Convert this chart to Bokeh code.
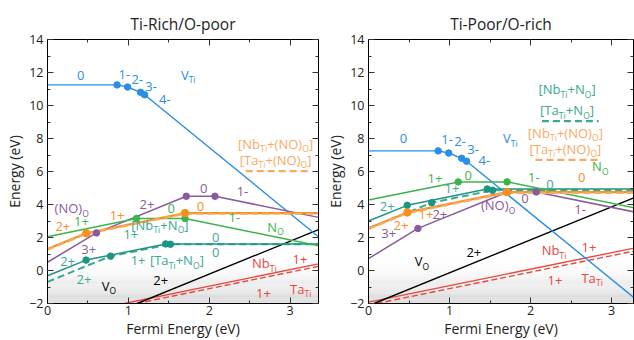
import re
import numpy as np
from bokeh.plotting import figure
from bokeh.layouts import row
from bokeh.models import LinearAxis, SingleIntervalTicker, Range1d, CustomJSTickFormatter
from bokeh.core.properties import value
from bokeh.embed import file_html
from bokeh.resources import INLINE

FONT = "Open Sans"

# ---------------- data: Ti-rich / O-poor (left) ----------------
L_vti_x = [0, 0.86, 0.99, 1.15, 1.20, 3.35]
L_vti_y = [11.25, 11.25, 11.12, 10.80, 10.65, 2.05]
L_vti_dots = [0.86, 0.99, 1.15, 1.20]

L_no_x = [0, 0.605, 1.716, 2.07, 3.35]          # (NO)_O
L_no_y = [0.50, 2.28, 4.50, 4.50, 3.22]
L_no_dots = [0.605, 1.716, 2.07]

L_nbno_x = [0, 0.48, 1.70, 3.35]                # [Nb_Ti+(NO)_O]
L_nbno_y = [1.30, 2.26, 3.48, 3.48]
L_nbno_dots = [0.48, 1.70]
L_tano_x = [0, 0.48, 1.70, 3.35]                # [Ta_Ti+(NO)_O]
L_tano_y = [1.26, 2.22, 3.44, 3.44]

L_n_x = [0, 1.10, 1.70, 3.35]                   # N_O
L_n_y = [2.05, 3.15, 3.15, 1.50]
L_n_dots = [1.10, 1.70]

L_nbn_x = [0, 0.477, 1.46, 3.35]                # [Nb_Ti+N_O]
L_nbn_y = [-0.32, 0.63, 1.61, 1.61]
L_nbn_dots = [0.477, 1.46]
L_tan_x = [0, 0.78, 1.52, 3.35]                 # [Ta_Ti+N_O]
L_tan_y = [-0.69, 0.87, 1.59, 1.59]
L_tan_dots = [0.78, 1.52]

L_vo_x = [1.11, 3.35]
L_vo_y = [-2.0, 2.48]
L_nb_x = [0.95, 3.35]
L_nb_y = [-2.0, 0.40]
L_ta_x = [1.10, 3.35]
L_ta_y = [-2.0, 0.25]

# ---------------- data: Ti-poor / O-rich (right) ----------------
R_vti_x = [0, 0.86, 0.99, 1.15, 1.21, 3.28]
R_vti_y = [7.25, 7.25, 7.12, 6.80, 6.62, -1.66]
R_vti_dots = [0.86, 0.99, 1.15, 1.21]

R_no_x = [0, 0.61, 1.716, 2.07, 3.28]
R_no_y = [0.72, 2.55, 4.76, 4.76, 3.55]
R_no_dots = [0.61, 1.716, 2.07]

R_nbno_x = [0, 0.48, 1.71, 3.28]
R_nbno_y = [2.56, 3.52, 4.75, 4.75]
R_nbno_dots = [0.48, 1.71]
R_tano_x = [0, 0.48, 1.71, 3.28]
R_tano_y = [2.52, 3.48, 4.71, 4.71]

R_n_x = [0, 1.107, 1.71, 3.28]
R_n_y = [4.27, 5.37, 5.37, 3.80]
R_n_dots = [1.107, 1.71]

R_nbn_x = [0, 0.478, 1.465, 3.28]
R_nbn_y = [3.00, 3.95, 4.94, 4.94]
R_nbn_dots = [0.478, 1.465]
R_tan_x = [0, 0.78, 1.53, 3.28]
R_tan_y = [2.55, 4.11, 4.86, 4.86]
R_tan_dots = [0.78, 1.53]

R_vo_x = [0.07, 3.28]
R_vo_y = [-2.0, 4.42]
R_nb_x = [0, 3.28]
R_nb_y = [-1.92, 1.36]
R_ta_x = [0.10, 3.28]
R_ta_y = [-2.0, 1.18]

# ---------------- colours ----------------
BLUE = "#2a8de6"
PURPLE = "#8a5a9c"
ORANGE = "#f7901e"
ORANGE_L = "#f9aa62"
GREEN = "#3bb44a"
TEAL = "#1b9683"
TEAL_L = "#3aa893"
RED = "#e8473e"
BLACK = "#000000"

# ---------------- labels ----------------
L_labels = [
    ("0", 0.41, 11.82, BLUE), ("1-", 0.95, 11.86, BLUE), ("2-", 1.11, 11.57, BLUE),
    ("3-", 1.28, 11.16, BLUE), ("4-", 1.45, 10.39, BLUE), ("V_{Ti}", 1.74, 11.86, BLUE),
    ("[Nb_{Ti}+(NO)_{O}]", 2.82, 7.69, ORANGE_L), ("[Ta_{Ti}+(NO)_{O}]", 2.82, 6.71, ORANGE_L),
    ("0", 1.93, 4.94, PURPLE), ("1-", 2.41, 4.78, PURPLE), ("2+", 1.23, 4.03, PURPLE),
    ("(NO)_{O}", 0.30, 3.76, PURPLE), ("3+", 0.51, 1.28, PURPLE),
    ("1+", 0.86, 3.35, ORANGE), ("2+", 0.19, 2.66, ORANGE), ("0", 1.89, 3.90, ORANGE),
    ("0", 1.53, 3.74, GREEN), ("1+", 0.42, 2.95, GREEN), ("1-", 2.31, 3.20, GREEN),
    ("N_{O}", 2.82, 2.64, GREEN),
    ("[Nb_{Ti}+N_{O}]", 1.39, 2.77, TEAL_L), ("1+", 1.03, 2.18, TEAL_L), ("0", 2.08, 2.03, TEAL_L),
    ("0", 2.08, 1.08, TEAL_L), ("1+", 1.12, 0.59, TEAL_L), ("[Ta_{Ti}+N_{O}]", 1.60, 0.61, TEAL_L),
    ("2+", 0.25, 0.55, TEAL_L), ("2+", 0.45, -0.53, TEAL_L),
    ("V_{O}", 0.76, -0.93, BLACK), ("2+", 1.40, -0.59, BLACK),
    ("Nb_{Ti}", 2.68, 0.45, RED), ("1+", 3.12, 0.65, RED), ("1+", 2.67, -1.38, RED),
    ("Ta_{Ti}", 3.13, -1.12, RED),
]
L_keys = [(2.45, 3.23, 6.02, ORANGE_L)]

R_labels = [
    ("[Nb_{Ti}+N_{O}]", 2.45, 10.98, TEAL_L), ("[Ta_{Ti}+N_{O}]", 2.45, 9.70, TEAL_L),
    ("[Nb_{Ti}+(NO)_{O}]", 2.43, 8.36, ORANGE_L), ("[Ta_{Ti}+(NO)_{O}]", 2.43, 7.38, ORANGE_L),
    ("N_{O}", 2.86, 6.33, GREEN),
    ("0", 0.43, 7.99, BLUE), ("1-", 0.97, 7.93, BLUE), ("2-", 1.13, 7.83, BLUE),
    ("3-", 1.29, 7.34, BLUE), ("4-", 1.43, 6.65, BLUE), ("V_{Ti}", 1.75, 8.03, BLUE),
    ("1+", 0.82, 5.57, GREEN), ("0", 1.23, 5.77, GREEN), ("1-", 2.04, 5.63, GREEN),
    ("0", 2.24, 5.24, TEAL_L), ("1+", 1.03, 5.00, TEAL_L), ("2+", 0.23, 3.90, TEAL_L),
    ("0", 2.63, 5.61, ORANGE), ("1+", 0.71, 3.40, ORANGE), ("2+", 0.40, 2.72, ORANGE),
    ("2+", 0.88, 3.40, PURPLE), ("(NO)_{O}", 1.60, 3.95, PURPLE), ("0", 1.93, 4.39, PURPLE),
    ("1-", 2.61, 3.70, PURPLE), ("3+", 0.25, 2.22, PURPLE),
    ("V_{O}", 0.66, 0.55, BLACK), ("2+", 1.30, 1.10, BLACK),
    ("Nb_{Ti}", 2.29, 1.24, RED), ("1+", 2.72, 1.38, RED), ("1+", 2.30, -0.63, RED),
    ("Ta_{Ti}", 2.76, -0.43, RED),
]
R_keys = [(2.14, 2.84, 9.05, TEAL_L), (2.06, 2.84, 6.71, ORANGE_L)]

# ---------------- helpers ----------------
CW = {"+": 0.572, "-": 0.322, "(": 0.296, ")": 0.296, "[": 0.329, "]": 0.329,
      "N": 0.762, "O": 0.779, "T": 0.556, "V": 0.592, "b": 0.613, "a": 0.562,
      "i": 0.258, "o": 0.602}
SIZE = 13
SUB = 8.5


def tw(s, size):
    return sum(CW.get(c, 0.572) for c in s) * size


def rich(p, x, y, label, color):
    bits = re.split(r"_\{([^}]*)\}", label)
    parts = [(b, i % 2 == 1) for i, b in enumerate(bits) if b]
    widths = [tw(t, SUB if s else SIZE) for t, s in parts]
    acc = -sum(widths) / 2
    for (t, s), w in zip(parts, widths):
        p.text(x=[x], y=[y], text=[t], x_offset=acc, y_offset=5 if s else 0,
               text_align="left", text_baseline="middle", text_font=value(FONT),
               text_font_size=f"{SUB if s else SIZE}px", text_color=color)
        acc += w


def style_axis(ax, interval, show):
    ax.ticker = SingleIntervalTicker(interval=interval, num_minor_ticks=2)
    ax.major_tick_in = 6
    ax.major_tick_out = 0
    ax.minor_tick_in = 3
    ax.minor_tick_out = 0
    ax.axis_line_color = "black"
    ax.major_tick_line_color = "#333333"
    ax.minor_tick_line_color = "#333333"
    if show:
        ax.major_label_text_font = FONT
        ax.major_label_text_font_size = "12.5px"
        ax.major_label_text_color = "#222222"
        ax.axis_label_text_font = FONT
        ax.axis_label_text_font_size = "14px"
        ax.axis_label_text_font_style = "normal"
        ax.axis_label_text_color = "#222222"
    else:
        ax.formatter = CustomJSTickFormatter(code="return '';")
        ax.major_label_standoff = 0


def make_fig(title, xmax, width, bl, br):
    p = figure(width=width, height=340, x_range=Range1d(0, xmax), y_range=Range1d(-2, 14),
               output_backend="svg", toolbar_location=None,
               min_border_left=bl, min_border_right=br, min_border_top=39, min_border_bottom=31)
    p.title.text = title
    p.title.align = "center"
    p.title.text_font = FONT
    p.title.text_font_size = "15.5px"
    p.title.text_font_style = "normal"
    p.title.text_color = "#222222"
    p.grid.visible = False
    p.outline_line_color = "black"
    p.background_fill_color = "white"
    p.border_fill_color = "white"
    style_axis(p.xaxis[0], 1, True)
    style_axis(p.yaxis[0], 2, True)
    p.xaxis[0].axis_label = "Fermi Energy (eV)"
    p.xaxis[0].major_label_standoff = 2
    p.xaxis[0].axis_label_standoff = 1
    p.yaxis[0].axis_label = "Energy (eV)"
    p.yaxis[0].major_label_standoff = 4
    p.yaxis[0].axis_label_standoff = 2
    top = LinearAxis()
    style_axis(top, 1, False)
    p.add_layout(top, "above")
    right = LinearAxis()
    style_axis(right, 2, False)
    p.add_layout(right, "right")
    # valence-band shading
    edges = np.linspace(-2, 0.6, 41)
    mids = (edges[:-1] + edges[1:]) / 2
    cols = []
    for m in mids:
        t = (0.6 - m) / 2.6
        g = int(round(255 - 40 * t ** 1.3))
        cols.append("#%02x%02x%02x" % (g, g, g))
    p.quad(left=0, right=xmax, bottom=edges[:-1], top=edges[1:], fill_color=cols, line_color=None)
    return p


def line(p, xs, ys, color, w=1.5, dash="solid", alpha=1.0):
    p.line(xs, ys, line_color=color, line_width=w, line_dash=dash, line_alpha=alpha)


def dots(p, dx, xs, ys, color, size=6.5):
    p.scatter(dx, np.interp(dx, xs, ys), size=size, fill_color=color, line_color=color)


def panel(p, d, labels, keys):
    line(p, d["nb"][0], d["nb"][1], RED, 1.4)
    line(p, d["ta"][0], d["ta"][1], RED, 1.4, "6 3")
    line(p, d["vo"][0], d["vo"][1], BLACK, 1.4)
    line(p, d["vti"][0], d["vti"][1], BLUE, 1.4)
    line(p, d["no"][0], d["no"][1], PURPLE, 1.5)
    line(p, d["tan"][0], d["tan"][1], TEAL_L, 2.0, "7 4")
    line(p, d["nbn"][0], d["nbn"][1], TEAL, 1.5)
    line(p, d["n"][0], d["n"][1], GREEN, 1.5)
    line(p, d["nbno"][0], d["nbno"][1], ORANGE, 2.2)
    line(p, d["tano"][0], d["tano"][1], ORANGE_L, 2.2, "7 4")
    dots(p, d["vti_d"], d["vti"][0], d["vti"][1], BLUE)
    dots(p, d["no_d"], d["no"][0], d["no"][1], PURPLE)
    dots(p, d["tan_d"], d["tan"][0], d["tan"][1], TEAL)
    dots(p, d["nbn_d"], d["nbn"][0], d["nbn"][1], TEAL)
    dots(p, d["n_d"], d["n"][0], d["n"][1], GREEN)
    dots(p, d["nbno_d"], d["nbno"][0], d["nbno"][1], ORANGE, 7.5)
    for x0, x1, yy, c in keys:
        p.line([x0, x1], [yy, yy], line_color=c, line_width=2.2, line_dash="7 4")
    for t, x, y, c in labels:
        rich(p, x, y, t, c)


left = make_fig("Ti-Rich/O-poor", 3.35, 320, 47, 2)
panel(left, {
    "vti": (L_vti_x, L_vti_y), "vti_d": L_vti_dots,
    "no": (L_no_x, L_no_y), "no_d": L_no_dots,
    "nbno": (L_nbno_x, L_nbno_y), "nbno_d": L_nbno_dots,
    "tano": (L_tano_x, L_tano_y),
    "n": (L_n_x, L_n_y), "n_d": L_n_dots,
    "nbn": (L_nbn_x, L_nbn_y), "nbn_d": L_nbn_dots,
    "tan": (L_tan_x, L_tan_y), "tan_d": L_tan_dots,
    "vo": (L_vo_x, L_vo_y), "nb": (L_nb_x, L_nb_y), "ta": (L_ta_x, L_ta_y),
}, L_labels, L_keys)

right = make_fig("Ti-Poor/O-rich", 3.27, 314, 48, 1)
panel(right, {
    "vti": (R_vti_x, R_vti_y), "vti_d": R_vti_dots,
    "no": (R_no_x, R_no_y), "no_d": R_no_dots,
    "nbno": (R_nbno_x, R_nbno_y), "nbno_d": R_nbno_dots,
    "tano": (R_tano_x, R_tano_y),
    "n": (R_n_x, R_n_y), "n_d": R_n_dots,
    "nbn": (R_nbn_x, R_nbn_y), "nbn_d": R_nbn_dots,
    "tan": (R_tan_x, R_tan_y), "tan_d": R_tan_dots,
    "vo": (R_vo_x, R_vo_y), "nb": (R_nb_x, R_nb_y), "ta": (R_ta_x, R_ta_y),
}, R_labels, R_keys)

layout = row(left, right, spacing=0)
open("out.html", "w").write(file_html(layout, INLINE))
